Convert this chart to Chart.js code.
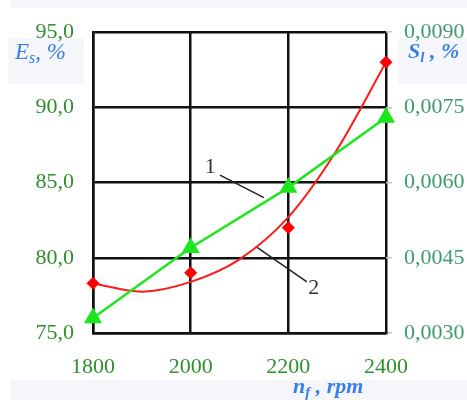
<!DOCTYPE html>
<html>
<head>
<meta charset="utf-8">
<script src="https://cdn.jsdelivr.net/npm/chart.js@4"></script>
<style>
  html, body { margin: 0; padding: 0; background: #fff; }
  #wrap { width: 467px; height: 400px; position: relative; }
</style>
</head>
<body>
<div id="wrap"><canvas id="chart"></canvas></div>
<script>
// -------------------- DATA --------------------
const rpm = [1800, 2000, 2200, 2400];
const esValues = [78.3, 79.0, 82.0, 93.0];          // curve 2, left axis (Es, %)
const slValues = [0.0033, 0.0047, 0.0059, 0.0073];  // curve 1, right axis (Sl, %)
// smoothed fit of curve 2
const fitRpm = [1800, 1900, 2000, 2100, 2200, 2300, 2400];
const esFit = [78.3, 77.75, 78.4, 79.9, 82.7, 87.2, 93.0];
const xTicks = [1800, 2000, 2200, 2400];
const leftTicks = [75, 80, 85, 90, 95];
const rightTicks = [0.003, 0.0045, 0.006, 0.0075, 0.009];

const serif = "'Liberation Serif', 'DejaVu Serif', serif";
const tickGreen = '#2f8f2f';
const rightGreen = '#3f9a6c';
const titleBlue = '#3a7ee8';

function pts(xs, ys) { return xs.map((x, i) => ({ x: x, y: ys[i] })); }

// -------------------- LABELS PLUGIN --------------------
function drawParts(ctx, x, y, parts) {
    parts.forEach(p => {
        ctx.font = p.font;
        ctx.fillText(p.text, x, y + (p.dy || 0));
        x += ctx.measureText(p.text).width;
    });
}

const extras = {
    id: 'extras',
    beforeDraw(chart) {
        const ctx = chart.ctx;
        ctx.save();
        ctx.fillStyle = '#fff';
        ctx.fillRect(0, 0, chart.width, chart.height);
        ctx.fillStyle = '#f4f6f9';
        ctx.fillRect(10, 0, chart.width - 10, 8);
        ctx.fillRect(8, 38, 76, 46);
        ctx.fillRect(398, 38, 69, 46);
        ctx.fillRect(10, 380, chart.width - 10, 20);
        ctx.restore();
    },
    afterDraw(chart) {
        const ctx = chart.ctx;
        const xs = chart.scales.x, ys = chart.scales.y;
        ctx.save();
        ctx.fillStyle = titleBlue;
        ctx.textBaseline = 'alphabetic';
        drawParts(ctx, 15, 59, [
            { text: 'E', font: 'italic 23px ' + serif },
            { text: 's', font: 'italic 16px ' + serif, dy: 4 },
            { text: ', %', font: 'italic 23px ' + serif }
        ]);
        drawParts(ctx, 408, 58, [
            { text: 'S', font: 'bold italic 22px ' + serif },
            { text: 'l', font: 'bold italic 15px ' + serif, dy: 4 },
            { text: ' , %', font: 'bold italic 22px ' + serif }
        ]);
        drawParts(ctx, 293, 393, [
            { text: 'n', font: 'bold italic 22px ' + serif },
            { text: 'f', font: 'bold italic 15px ' + serif, dy: 4 },
            { text: ' , rpm', font: 'bold italic 22px ' + serif }
        ]);

        // curve numbers with leader lines
        ctx.strokeStyle = '#222';
        ctx.lineWidth = 1.5;
        ctx.beginPath();
        ctx.moveTo(xs.getPixelForValue(2060), ys.getPixelForValue(85.5));
        ctx.lineTo(xs.getPixelForValue(2150), ys.getPixelForValue(84.0));
        ctx.moveTo(xs.getPixelForValue(2136), ys.getPixelForValue(80.7));
        ctx.lineTo(xs.getPixelForValue(2238), ys.getPixelForValue(78.4));
        ctx.stroke();
        ctx.fillStyle = '#333';
        ctx.font = '22px ' + serif;
        ctx.textAlign = 'center';
        ctx.textBaseline = 'middle';
        ctx.fillText('1', xs.getPixelForValue(2040), ys.getPixelForValue(86.0));
        ctx.fillText('2', xs.getPixelForValue(2252), ys.getPixelForValue(78.0));
        ctx.restore();
    }
};

// -------------------- CHART --------------------
new Chart(document.getElementById('chart'), {
    type: 'line',
    data: {
        datasets: [
            {
                data: pts(fitRpm, esFit),
                yAxisID: 'y',
                borderColor: '#ff1a1a',
                borderWidth: 2,
                pointRadius: 0,
                tension: 0.4,
                cubicInterpolationMode: 'monotone',
                order: 3
            },
            {
                data: pts(rpm, esValues),
                yAxisID: 'y',
                showLine: false,
                pointStyle: 'rectRot',
                pointRadius: 6,
                backgroundColor: '#ff0000',
                borderColor: '#ff0000',
                clip: false,
                order: 2
            },
            {
                data: pts(rpm, slValues),
                yAxisID: 'y2',
                borderColor: '#1ee61e',
                backgroundColor: '#1ee61e',
                borderWidth: 2.5,
                tension: 0,
                pointStyle: 'triangle',
                pointRadius: 8,
                clip: false,
                order: 1
            }
        ]
    },
    options: {
        responsive: true,
        maintainAspectRatio: false,
        animation: false,
        layout: { padding: { top: 19, left: 0, right: 0, bottom: 0 } },
        plugins: { legend: { display: false }, tooltip: { enabled: false } },
        scales: {
            x: {
                type: 'linear',
                min: 1800, max: 2400,
                afterBuildTicks: s => { s.ticks = xTicks.map(v => ({ value: v })); },
                afterFit: s => { s.height = 67; },
                grid: { color: '#111', lineWidth: 2.5, drawTicks: false },
                border: { color: '#111', width: 2.5 },
                ticks: {
                    padding: 21, color: tickGreen, font: { family: serif, size: 22 },
                    callback: v => String(v)
                }
            },
            y: {
                position: 'left',
                min: 75, max: 95,
                afterBuildTicks: s => { s.ticks = leftTicks.map(v => ({ value: v })); },
                afterFit: s => { s.width = 93; },
                grid: { color: '#111', lineWidth: 2.5, drawTicks: false },
                border: { color: '#111', width: 2.5 },
                ticks: {
                    padding: 19, color: tickGreen, font: { family: serif, size: 22 },
                    callback: v => v.toFixed(1).replace('.', ',')
                }
            },
            y2: {
                position: 'right',
                min: 0.003, max: 0.009,
                afterBuildTicks: s => { s.ticks = rightTicks.map(v => ({ value: v })); },
                afterFit: s => { s.width = 81; },
                grid: { drawOnChartArea: false, color: '#c8c8c8', tickLength: 6, lineWidth: 1.5 },
                border: { display: false },
                ticks: {
                    padding: 12, color: rightGreen, font: { family: serif, size: 22 },
                    callback: v => v.toFixed(4).replace('.', ',')
                }
            }
        }
    },
    plugins: [extras]
});
</script>
</body>
</html>
